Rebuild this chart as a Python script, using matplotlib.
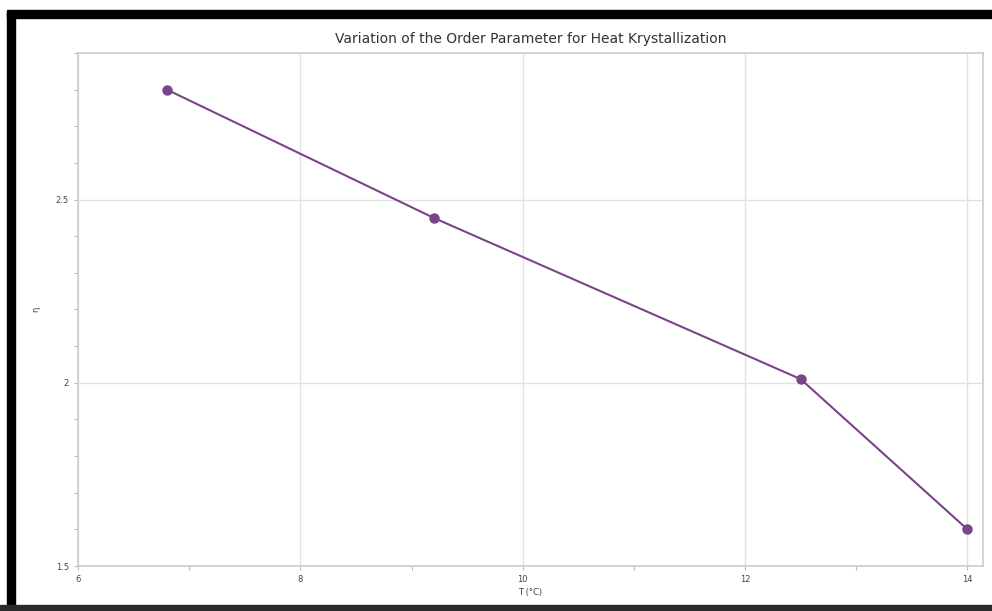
import matplotlib.pyplot as plt
from matplotlib.patches import Rectangle
from matplotlib.ticker import MultipleLocator

# order parameter vs temperature
temps = [6.8, 9.2, 12.5, 14.0]
eta = [2.8, 2.45, 2.01, 1.6]

x_ticks = [6, 8, 10, 12, 14]
y_ticks = [1.5, 2, 2.5]
y_tick_labels = ['1.5', '2', '2.5']

purple = '#7b4489'

fig = plt.figure(figsize=(9.92, 6.11), dpi=100)
fig.patch.set_facecolor('white')

# black frame around the panel
fig.patches.append(Rectangle((7 / 992, 0), 8 / 992, 1 - 12 / 611,
                             transform=fig.transFigure, color='black', zorder=0))
fig.patches.append(Rectangle((7 / 992, 1 - 18 / 611), 1, 8 / 611,
                             transform=fig.transFigure, color='black', zorder=0))
fig.patches.append(Rectangle((0, 0), 1, 6 / 611,
                             transform=fig.transFigure, color='#2a2a2a', zorder=0))

ax = fig.add_axes([78 / 992, 1 - 566 / 611, (983 - 78) / 992, (566 - 53) / 611])
ax.plot(temps, eta, color=purple, lw=1.5, marker='o', ms=6.5,
        markerfacecolor=purple, markeredgecolor=purple, zorder=3)

ax.set_xlim(6, 14.14)
ax.set_ylim(1.5, 2.9)
ax.set_xticks(x_ticks)
ax.set_yticks(y_ticks)
ax.set_yticklabels(y_tick_labels)
ax.xaxis.set_minor_locator(MultipleLocator(1))
ax.yaxis.set_minor_locator(MultipleLocator(0.1))
ax.grid(True, which='major', color='#e2e2e2', lw=1.0)
ax.tick_params(which='both', colors='#bbbbbb', labelcolor='#444444',
               labelsize=6, length=3, width=0.8)
for s in ax.spines.values():
    s.set_color('#cccccc')
    s.set_linewidth(1.2)

ax.set_xlabel('T (°C)', fontsize=6, color='#444444', labelpad=3)
ax.set_ylabel('η', fontsize=6, color='#444444', labelpad=11)
ax.set_title('Variation of the Order Parameter for Heat Krystallization',
             fontsize=10, color='#333333', pad=7)

fig.savefig('out.png', dpi=100)
